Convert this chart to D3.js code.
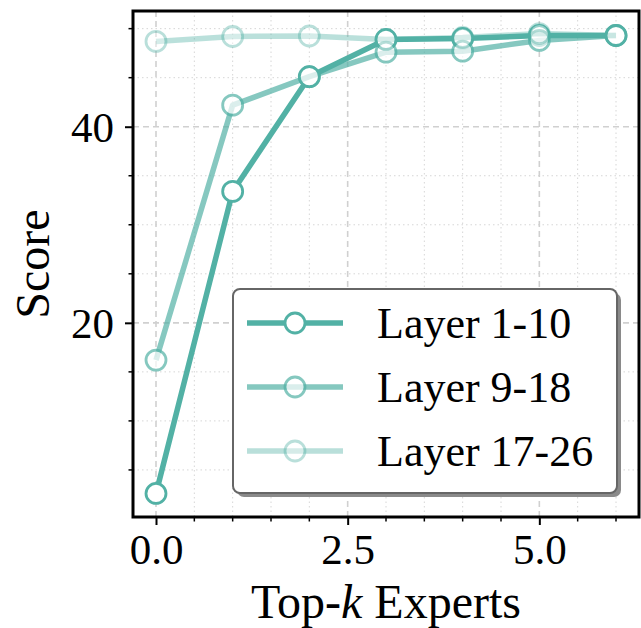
<!DOCTYPE html>
<html>
<head>
<meta charset="utf-8">
<script src="https://cdn.jsdelivr.net/npm/d3@7"></script>
<style>
  body { margin: 0; background: #fff; }
  text { font-family: "Liberation Serif", "Times New Roman", serif; fill: #000; }
</style>
</head>
<body>
<div class="chart"></div>
<script>
// data
var topK = [0, 1, 2, 3, 4, 5, 6];
var seriesNames = ["Layer 1-10", "Layer 9-18", "Layer 17-26"];
var layer1_10 = [2.6, 33.4, 45.1, 48.9, 49.0, 49.3, 49.3];
var layer9_18 = [16.2, 42.2, 45.1, 47.6, 47.7, 48.8, 49.3];
var layer17_26 = [48.7, 49.2, 49.25, 48.9, 49.1, 49.5, 49.3];
var xTicks = [0, 2.5, 5];
var yTicks = [20, 40];

var width = 641, height = 628;
var plotLeft = 133, plotRight = 639, plotTop = 11, plotBottom = 517;
var base = "#52b1a5";
var alphas = [1, 0.7, 0.4];

var series = [layer1_10, layer9_18, layer17_26].map(function (vals, i) {
  return { name: seriesNames[i], alpha: alphas[i],
    points: vals.map(function (v, j) { return { x: topK[j], y: v }; }) };
});

var svg = d3.select(".chart").append("svg")
  .attr("width", width)
  .attr("height", height);

var x = d3.scaleLinear().domain([-0.3, 6.3]).range([plotLeft, plotRight]);
var y = d3.scaleLinear().domain([0.2, 51.8]).range([plotBottom, plotTop]);

// minor grid (dotted)
var xMinor = d3.range(0, 6.01, 0.5).filter(function (d) { return xTicks.indexOf(d) < 0; });
var yMinor = d3.range(5, 51, 5).filter(function (d) { return yTicks.indexOf(d) < 0; });

svg.append("g").selectAll("line").data(xMinor).enter().append("line")
  .attr("x1", function (d) { return x(d); }).attr("x2", function (d) { return x(d); })
  .attr("y1", plotTop).attr("y2", plotBottom)
  .attr("stroke", "#d6d6d6").attr("stroke-width", 1).attr("stroke-dasharray", "1.5,3");
svg.append("g").selectAll("line").data(yMinor).enter().append("line")
  .attr("y1", function (d) { return y(d); }).attr("y2", function (d) { return y(d); })
  .attr("x1", plotLeft).attr("x2", plotRight)
  .attr("stroke", "#d6d6d6").attr("stroke-width", 1).attr("stroke-dasharray", "1.5,3");

// major grid (dashed)
svg.append("g").selectAll("line").data(xTicks).enter().append("line")
  .attr("x1", function (d) { return x(d); }).attr("x2", function (d) { return x(d); })
  .attr("y1", plotTop).attr("y2", plotBottom)
  .attr("stroke", "#d0d0d0").attr("stroke-width", 1.6).attr("stroke-dasharray", "6,4");
svg.append("g").selectAll("line").data(yTicks).enter().append("line")
  .attr("y1", function (d) { return y(d); }).attr("y2", function (d) { return y(d); })
  .attr("x1", plotLeft).attr("x2", plotRight)
  .attr("stroke", "#d0d0d0").attr("stroke-width", 1.6).attr("stroke-dasharray", "6,4");

// lines + markers
var line = d3.line().x(function (d) { return x(d.x); }).y(function (d) { return y(d.y); });

series.forEach(function (s) {
  var g = svg.append("g");
  g.append("path")
    .attr("d", line(s.points))
    .attr("fill", "none")
    .attr("stroke", base)
    .attr("stroke-width", 5.5)
    .attr("stroke-linejoin", "round")
    .attr("opacity", s.alpha);
  g.selectAll("circle").data(s.points).enter().append("circle")
    .attr("cx", function (d) { return x(d.x); })
    .attr("cy", function (d) { return y(d.y); })
    .attr("r", 10)
    .attr("fill", "#fff")
    .attr("stroke", base)
    .attr("stroke-width", 2.8)
    .attr("opacity", s.alpha);
});

// axes
var xAxis = d3.axisBottom(x).tickValues(xTicks).tickSize(8).tickPadding(8)
  .tickFormat(d3.format(".1f"));
var yAxis = d3.axisLeft(y).tickValues(yTicks).tickSize(8).tickPadding(11)
  .tickFormat(d3.format("d"));

var gx = svg.append("g").attr("transform", "translate(0," + plotBottom + ")").call(xAxis);
var gy = svg.append("g").attr("transform", "translate(" + plotLeft + ",0)").call(yAxis);
[gx, gy].forEach(function (g) {
  g.select(".domain").remove();
  g.selectAll(".tick line").attr("stroke", "#000").attr("stroke-width", 2);
  g.selectAll(".tick text").style("font-size", "43px")
    .style("font-family", "'Liberation Serif', serif");
});
gx.selectAll(".tick text").attr("dy", "0.72em");
gy.selectAll(".tick text").attr("dy", "0.34em");

// minor ticks
svg.append("g").selectAll("line").data(xMinor).enter().append("line")
  .attr("x1", function (d) { return x(d); }).attr("x2", function (d) { return x(d); })
  .attr("y1", plotBottom).attr("y2", plotBottom + 4.5)
  .attr("stroke", "#000").attr("stroke-width", 1.5);
svg.append("g").selectAll("line").data(yMinor).enter().append("line")
  .attr("y1", function (d) { return y(d); }).attr("y2", function (d) { return y(d); })
  .attr("x1", plotLeft).attr("x2", plotLeft - 4.5)
  .attr("stroke", "#000").attr("stroke-width", 1.5);

// frame
svg.append("rect")
  .attr("x", plotLeft).attr("y", plotTop)
  .attr("width", plotRight - plotLeft).attr("height", plotBottom - plotTop)
  .attr("fill", "none").attr("stroke", "#000").attr("stroke-width", 3);

// axis labels
var xl = svg.append("text")
  .attr("x", (plotLeft + plotRight) / 2).attr("y", 618)
  .attr("text-anchor", "middle")
  .style("font-size", "48px");
xl.append("tspan").text("Top-");
xl.append("tspan").style("font-style", "italic").text("k");
xl.append("tspan").text(" Experts");

svg.append("text")
  .attr("transform", "translate(49," + ((plotTop + plotBottom) / 2) + ") rotate(-90)")
  .attr("text-anchor", "middle")
  .style("font-size", "48px")
  .text("Score");

// legend
var lg = svg.append("g");
var lx = 233, ly = 289, lw = 384, lh = 204;
lg.append("rect").attr("x", lx + 4).attr("y", ly + 4).attr("width", lw).attr("height", lh)
  .attr("rx", 7).attr("fill", "#8a8a8a");
lg.append("rect").attr("x", lx).attr("y", ly).attr("width", lw).attr("height", lh)
  .attr("rx", 7).attr("fill", "#fff").attr("stroke", "#666").attr("stroke-width", 2);

series.forEach(function (s, i) {
  var ry = 323 + i * 64;
  lg.append("line").attr("x1", 247).attr("x2", 343).attr("y1", ry).attr("y2", ry)
    .attr("stroke", base).attr("stroke-width", 5.5).attr("opacity", s.alpha);
  lg.append("circle").attr("cx", 295).attr("cy", ry).attr("r", 10)
    .attr("fill", "#fff").attr("stroke", base).attr("stroke-width", 2.8)
    .attr("opacity", s.alpha);
  lg.append("text").attr("x", 377).attr("y", ry + 15)
    .style("font-size", "44px").text(s.name);
});
</script>
</body>
</html>
